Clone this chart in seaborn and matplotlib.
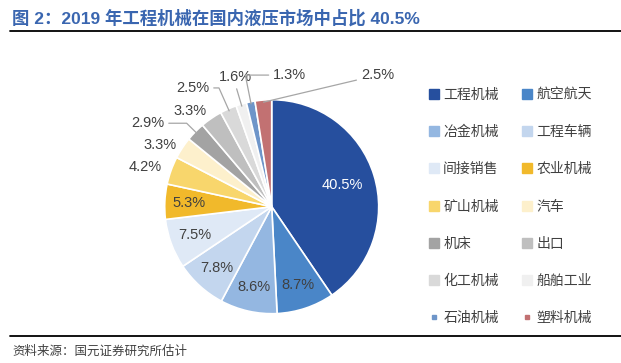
import numpy as np
import matplotlib.pyplot as plt
import seaborn as sns
from matplotlib.lines import Line2D

sectors = ['工程机械', '航空航天', '冶金机械', '工程车辆', '间接销售', '农业机械', '矿山机械',
           '汽车', '机床', '出口', '化工机械', '船舶工业', '石油机械', '塑料机械']
shares = [40.5, 8.7, 8.6, 7.8, 7.5, 5.3, 4.2, 3.3, 2.9, 3.3, 2.5, 1.6, 1.3, 2.5]
colors = ['#264F9E', '#4A86C8', '#94B7E1', '#C3D6EE', '#DFE9F6', '#F1B92B', '#F8D66C',
          '#FDF0CC', '#A3A3A3', '#BFBFBF', '#D9D9D9', '#F0F0F0', '#6E95C9', '#C27172']

# outside label positions (data units, pie radius = 1) and whether a leader line is drawn
outside = {6: ((-1.18, 0.37), None), 7: ((-1.04, 0.58), None), 8: ((-1.16, 0.78), 'angle'),
           9: ((-0.76, 0.89), None), 10: ((-0.74, 1.11), 'angle'), 11: ((-0.34, 1.21), 'angle'),
           12: ((0.17, 1.23), 'angle'), 13: ((0.99, 1.23), 'line')}

sns.set_theme(style='white')
plt.rcParams['font.family'] = ['Liberation Sans', 'Noto Sans CJK SC', 'DejaVu Sans']

W, H = 621, 363
fig = plt.figure(figsize=(W / 100, H / 100), dpi=100)
fig.patch.set_facecolor('white')

# pie axes: centre at (271.7, 206.7) px, radius 107 px
cx, cy, R = 271.7, 206.7, 107
x0, x1, y0, y1 = 100, 440, 60, 330
ax = fig.add_axes([x0 / W, 1 - y1 / H, (x1 - x0) / W, (y1 - y0) / H])

pal = sns.color_palette(colors)
wedges, _ = ax.pie(shares, colors=pal, startangle=90, counterclock=False,
                   wedgeprops=dict(edgecolor='white', linewidth=1.2))
ax.set_xlim((x0 - cx) / R, (x1 - cx) / R)
ax.set_ylim((cy - y1) / R, (cy - y0) / R)
ax.set_aspect('auto')
ax.axis('off')

for i, (w, v) in enumerate(zip(wedges, shares)):
    mid = (w.theta1 + w.theta2) / 2
    a = np.deg2rad(mid)
    txt = f'{v:.1f}%'
    if i not in outside:
        r = 0.69 if i == 0 else 0.77
        ax.text(r * np.cos(a), r * np.sin(a), txt, ha='center', va='center',
                fontsize=10.5, color='white' if i == 0 else '#404040')
    else:
        pos, lead = outside[i]
        if lead is None:
            ax.text(pos[0], pos[1], txt, ha='center', va='center', fontsize=10.5, color='#404040')
        else:
            cs = f'angle,angleA=0,angleB={mid},rad=0' if lead == 'angle' else 'arc3'
            ax.annotate(txt, xy=(0.98 * np.cos(a), 0.98 * np.sin(a)), xytext=pos,
                        ha='center', va='center', fontsize=10.5, color='#404040',
                        arrowprops=dict(arrowstyle='-', color='#A6A6A6', lw=0.9,
                                        shrinkA=1, shrinkB=0, connectionstyle=cs))

# legend, row-wise order in two columns
handles = []
for i, (s, c) in enumerate(zip(sectors, colors)):
    ms = 3.5 if i >= 12 else 6.5
    handles.append(Line2D([], [], marker='s', linestyle='none', markersize=ms,
                          markerfacecolor=c, markeredgecolor=c, label=s))
order = list(range(0, 14, 2)) + list(range(1, 14, 2))
fig.legend([handles[k] for k in order], [sectors[k] for k in order], ncol=2,
           loc='upper left', bbox_to_anchor=(421 / W, 1 - 81 / H), frameon=False,
           fontsize=10, labelspacing=1.67, handlelength=0.8, handletextpad=0.3,
           columnspacing=1.6, borderpad=0, labelcolor='#404040')

fig.text(12 / W, 1 - 18 / H, '图 2：2019 年工程机械在国内液压市场中占比 40.5%',
         fontsize=12.5, fontweight='bold', color='#3A66B0', va='center', ha='left')
fig.add_artist(Line2D([10 / W, 1], [1 - 31 / H] * 2, color='black', lw=1.3))
fig.add_artist(Line2D([10 / W, 1], [1 - 336 / H] * 2, color='black', lw=1.3))
fig.text(12 / W, 1 - 352 / H, '资料来源：国元证券研究所估计', fontsize=9,
         color='#404040', va='center', ha='left')

fig.savefig('out.png', dpi=100)
